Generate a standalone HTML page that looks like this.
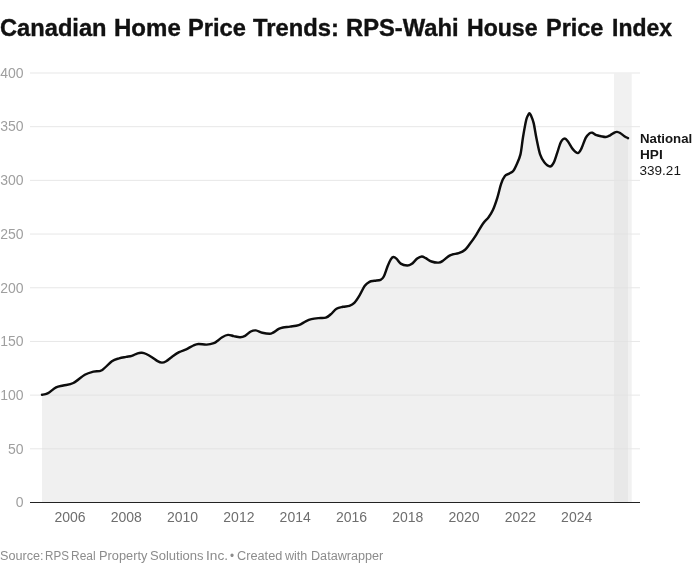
<!DOCTYPE html>
<html><head><meta charset="utf-8"><title>Canadian Home Price Trends</title>
<style>
html,body{margin:0;padding:0;background:#fff;}
body{width:699px;height:571px;position:relative;overflow:hidden;font-family:"Liberation Sans",sans-serif;}
svg{position:absolute;left:0;top:0;}
.w{position:absolute;white-space:nowrap;transform-origin:0 0;line-height:1;}
.t{font-weight:bold;font-size:24.7px;color:#111;top:16.3px;-webkit-text-stroke:0.4px #111;}
.f{font-size:12px;color:#8c8c8c;top:550px;}
.yl{position:absolute;left:0;width:23.6px;text-align:right;font-size:14px;color:#9f9f9f;line-height:14px;height:14px;}
.xl{position:absolute;width:60px;text-align:center;font-size:14px;color:#6e6e6e;line-height:14px;height:14px;top:509.8px;}
.lab{position:absolute;left:639.6px;font-size:13.5px;line-height:16.3px;color:#161616;top:130.7px;white-space:nowrap;}
.lab span{display:inline-block;transform-origin:0 0;}
.lab b{font-weight:bold;}
#L{position:absolute;left:0;top:0;width:699px;height:571px;will-change:transform;}
</style></head><body><div id="L">
<svg width="699" height="571" viewBox="0 0 699 571">
<rect x="614.0" y="73.6" width="17.7" height="428.9" fill="#f1f1f1"/>
<line x1="30" x2="640" y1="73.00" y2="73.00" stroke="#e7e7e7" stroke-width="1"/>
<line x1="30" x2="640" y1="126.69" y2="126.69" stroke="#e7e7e7" stroke-width="1"/>
<line x1="30" x2="640" y1="180.38" y2="180.38" stroke="#e7e7e7" stroke-width="1"/>
<line x1="30" x2="640" y1="234.06" y2="234.06" stroke="#e7e7e7" stroke-width="1"/>
<line x1="30" x2="640" y1="287.75" y2="287.75" stroke="#e7e7e7" stroke-width="1"/>
<line x1="30" x2="640" y1="341.44" y2="341.44" stroke="#e7e7e7" stroke-width="1"/>
<line x1="30" x2="640" y1="395.12" y2="395.12" stroke="#e7e7e7" stroke-width="1"/>
<line x1="30" x2="640" y1="448.81" y2="448.81" stroke="#e7e7e7" stroke-width="1"/>
<path d="M42.00,394.80C42.93,394.57 45.25,394.63 47.60,393.40C49.95,392.17 53.48,388.72 56.10,387.40C58.72,386.08 60.43,386.23 63.30,385.50C66.17,384.77 69.72,384.78 73.30,383.00C76.88,381.22 81.45,376.70 84.80,374.80C88.15,372.90 90.55,372.37 93.40,371.60C96.25,370.83 98.82,371.93 101.90,370.20C104.98,368.47 109.03,363.18 111.90,361.20C114.77,359.22 116.73,359.02 119.10,358.30C121.47,357.58 123.98,357.30 126.10,356.90C128.22,356.50 129.88,356.50 131.80,355.90C133.72,355.30 135.92,353.82 137.60,353.30C139.28,352.78 140.47,352.68 141.90,352.80C143.33,352.92 144.53,353.27 146.20,354.00C147.87,354.73 150.00,356.00 151.90,357.20C153.80,358.40 155.93,360.30 157.60,361.20C159.27,362.10 160.47,362.60 161.90,362.60C163.33,362.60 164.53,362.15 166.20,361.20C167.87,360.25 169.75,358.40 171.90,356.90C174.05,355.40 176.72,353.47 179.10,352.20C181.48,350.93 183.82,350.42 186.20,349.30C188.58,348.18 191.37,346.38 193.40,345.50C195.43,344.62 196.20,344.15 198.40,344.00C200.60,343.85 204.03,344.73 206.60,344.60C209.17,344.47 212.02,343.80 213.80,343.20C215.58,342.60 215.90,342.00 217.30,341.00C218.70,340.00 220.42,338.22 222.20,337.20C223.98,336.18 226.08,335.08 228.00,334.90C229.92,334.72 231.68,335.72 233.70,336.10C235.72,336.48 238.20,337.25 240.10,337.20C242.00,337.15 243.32,336.75 245.10,335.80C246.88,334.85 249.02,332.40 250.80,331.50C252.58,330.60 253.88,330.20 255.80,330.40C257.72,330.60 260.02,332.13 262.30,332.70C264.58,333.27 267.72,333.80 269.50,333.80C271.28,333.80 271.47,333.52 273.00,332.70C274.53,331.88 277.03,329.77 278.70,328.90C280.37,328.03 281.10,327.88 283.00,327.50C284.90,327.12 287.48,326.98 290.10,326.60C292.72,326.22 296.10,326.08 298.70,325.20C301.30,324.32 303.58,322.32 305.70,321.30C307.82,320.28 309.25,319.63 311.40,319.10C313.55,318.57 316.20,318.33 318.60,318.10C321.00,317.87 323.77,318.33 325.80,317.70C327.83,317.07 329.02,315.80 330.80,314.30C332.58,312.80 334.48,309.95 336.50,308.70C338.52,307.45 340.75,307.28 342.90,306.80C345.05,306.32 347.50,306.45 349.40,305.80C351.30,305.15 352.58,304.68 354.30,302.90C356.02,301.12 357.95,297.95 359.70,295.10C361.45,292.25 363.17,288.02 364.80,285.80C366.43,283.58 367.90,282.63 369.50,281.80C371.10,280.97 372.55,281.13 374.40,280.80C376.25,280.47 379.03,280.52 380.60,279.80C382.17,279.08 382.65,278.72 383.80,276.50C384.95,274.28 386.33,269.37 387.50,266.50C388.67,263.63 389.83,260.88 390.80,259.30C391.77,257.72 392.37,257.12 393.30,257.00C394.23,256.88 395.17,257.50 396.40,258.60C397.63,259.70 398.90,262.45 400.70,263.60C402.50,264.75 405.40,265.42 407.20,265.50C409.00,265.58 409.83,265.25 411.50,264.10C413.17,262.95 415.48,259.87 417.20,258.60C418.92,257.33 420.37,256.57 421.80,256.50C423.23,256.43 424.18,257.37 425.80,258.20C427.42,259.03 429.37,260.77 431.50,261.50C433.63,262.23 436.70,262.72 438.60,262.60C440.50,262.48 441.22,261.88 442.90,260.80C444.58,259.72 447.03,257.18 448.70,256.10C450.37,255.02 451.23,254.78 452.90,254.30C454.57,253.82 456.67,253.95 458.70,253.20C460.73,252.45 463.20,251.40 465.10,249.80C467.00,248.20 468.25,246.10 470.10,243.60C471.95,241.10 474.07,238.12 476.20,234.80C478.33,231.48 480.83,226.63 482.90,223.70C484.97,220.77 486.93,219.47 488.60,217.20C490.27,214.93 491.45,213.32 492.90,210.10C494.35,206.88 495.92,202.32 497.30,197.90C498.68,193.48 499.93,187.25 501.20,183.60C502.47,179.95 503.57,177.67 504.90,176.00C506.23,174.33 507.82,174.43 509.20,173.60C510.58,172.77 512.03,172.35 513.20,171.00C514.37,169.65 515.00,168.23 516.20,165.50C517.40,162.77 519.27,159.32 520.40,154.60C521.53,149.88 522.03,142.97 523.00,137.20C523.97,131.43 525.35,123.67 526.20,120.00C527.05,116.33 527.57,116.32 528.10,115.20C528.63,114.08 528.93,113.28 529.40,113.30C529.87,113.32 530.20,113.70 530.90,115.30C531.60,116.90 532.67,119.02 533.60,122.90C534.53,126.78 535.42,133.35 536.50,138.60C537.58,143.85 538.80,150.47 540.10,154.40C541.40,158.33 542.63,160.18 544.30,162.20C545.97,164.22 548.55,166.38 550.10,166.50C551.65,166.62 552.42,165.17 553.60,162.90C554.78,160.63 556.00,156.35 557.20,152.90C558.40,149.45 559.60,144.58 560.80,142.20C562.00,139.82 563.20,138.72 564.40,138.60C565.60,138.48 566.57,139.70 568.00,141.50C569.43,143.30 571.35,147.47 573.00,149.40C574.65,151.33 576.50,153.23 577.90,153.10C579.30,152.97 580.10,151.13 581.40,148.60C582.70,146.07 584.35,140.43 585.70,137.90C587.05,135.37 588.40,134.27 589.50,133.40C590.60,132.53 591.13,132.40 592.30,132.70C593.47,133.00 595.05,134.62 596.50,135.20C597.95,135.78 599.45,135.90 601.00,136.20C602.55,136.50 604.28,137.15 605.80,137.00C607.32,136.85 608.67,136.03 610.10,135.30C611.53,134.57 613.25,133.17 614.40,132.60C615.55,132.03 616.05,131.83 617.00,131.90C617.95,131.97 618.87,132.28 620.10,133.00C621.33,133.72 623.08,135.35 624.40,136.20C625.72,137.05 627.40,137.78 628.00,138.10L628.00,502.5L42.00,502.5Z" fill="#dcdcdc" fill-opacity="0.44"/>
<path d="M42.00,394.80C42.93,394.57 45.25,394.63 47.60,393.40C49.95,392.17 53.48,388.72 56.10,387.40C58.72,386.08 60.43,386.23 63.30,385.50C66.17,384.77 69.72,384.78 73.30,383.00C76.88,381.22 81.45,376.70 84.80,374.80C88.15,372.90 90.55,372.37 93.40,371.60C96.25,370.83 98.82,371.93 101.90,370.20C104.98,368.47 109.03,363.18 111.90,361.20C114.77,359.22 116.73,359.02 119.10,358.30C121.47,357.58 123.98,357.30 126.10,356.90C128.22,356.50 129.88,356.50 131.80,355.90C133.72,355.30 135.92,353.82 137.60,353.30C139.28,352.78 140.47,352.68 141.90,352.80C143.33,352.92 144.53,353.27 146.20,354.00C147.87,354.73 150.00,356.00 151.90,357.20C153.80,358.40 155.93,360.30 157.60,361.20C159.27,362.10 160.47,362.60 161.90,362.60C163.33,362.60 164.53,362.15 166.20,361.20C167.87,360.25 169.75,358.40 171.90,356.90C174.05,355.40 176.72,353.47 179.10,352.20C181.48,350.93 183.82,350.42 186.20,349.30C188.58,348.18 191.37,346.38 193.40,345.50C195.43,344.62 196.20,344.15 198.40,344.00C200.60,343.85 204.03,344.73 206.60,344.60C209.17,344.47 212.02,343.80 213.80,343.20C215.58,342.60 215.90,342.00 217.30,341.00C218.70,340.00 220.42,338.22 222.20,337.20C223.98,336.18 226.08,335.08 228.00,334.90C229.92,334.72 231.68,335.72 233.70,336.10C235.72,336.48 238.20,337.25 240.10,337.20C242.00,337.15 243.32,336.75 245.10,335.80C246.88,334.85 249.02,332.40 250.80,331.50C252.58,330.60 253.88,330.20 255.80,330.40C257.72,330.60 260.02,332.13 262.30,332.70C264.58,333.27 267.72,333.80 269.50,333.80C271.28,333.80 271.47,333.52 273.00,332.70C274.53,331.88 277.03,329.77 278.70,328.90C280.37,328.03 281.10,327.88 283.00,327.50C284.90,327.12 287.48,326.98 290.10,326.60C292.72,326.22 296.10,326.08 298.70,325.20C301.30,324.32 303.58,322.32 305.70,321.30C307.82,320.28 309.25,319.63 311.40,319.10C313.55,318.57 316.20,318.33 318.60,318.10C321.00,317.87 323.77,318.33 325.80,317.70C327.83,317.07 329.02,315.80 330.80,314.30C332.58,312.80 334.48,309.95 336.50,308.70C338.52,307.45 340.75,307.28 342.90,306.80C345.05,306.32 347.50,306.45 349.40,305.80C351.30,305.15 352.58,304.68 354.30,302.90C356.02,301.12 357.95,297.95 359.70,295.10C361.45,292.25 363.17,288.02 364.80,285.80C366.43,283.58 367.90,282.63 369.50,281.80C371.10,280.97 372.55,281.13 374.40,280.80C376.25,280.47 379.03,280.52 380.60,279.80C382.17,279.08 382.65,278.72 383.80,276.50C384.95,274.28 386.33,269.37 387.50,266.50C388.67,263.63 389.83,260.88 390.80,259.30C391.77,257.72 392.37,257.12 393.30,257.00C394.23,256.88 395.17,257.50 396.40,258.60C397.63,259.70 398.90,262.45 400.70,263.60C402.50,264.75 405.40,265.42 407.20,265.50C409.00,265.58 409.83,265.25 411.50,264.10C413.17,262.95 415.48,259.87 417.20,258.60C418.92,257.33 420.37,256.57 421.80,256.50C423.23,256.43 424.18,257.37 425.80,258.20C427.42,259.03 429.37,260.77 431.50,261.50C433.63,262.23 436.70,262.72 438.60,262.60C440.50,262.48 441.22,261.88 442.90,260.80C444.58,259.72 447.03,257.18 448.70,256.10C450.37,255.02 451.23,254.78 452.90,254.30C454.57,253.82 456.67,253.95 458.70,253.20C460.73,252.45 463.20,251.40 465.10,249.80C467.00,248.20 468.25,246.10 470.10,243.60C471.95,241.10 474.07,238.12 476.20,234.80C478.33,231.48 480.83,226.63 482.90,223.70C484.97,220.77 486.93,219.47 488.60,217.20C490.27,214.93 491.45,213.32 492.90,210.10C494.35,206.88 495.92,202.32 497.30,197.90C498.68,193.48 499.93,187.25 501.20,183.60C502.47,179.95 503.57,177.67 504.90,176.00C506.23,174.33 507.82,174.43 509.20,173.60C510.58,172.77 512.03,172.35 513.20,171.00C514.37,169.65 515.00,168.23 516.20,165.50C517.40,162.77 519.27,159.32 520.40,154.60C521.53,149.88 522.03,142.97 523.00,137.20C523.97,131.43 525.35,123.67 526.20,120.00C527.05,116.33 527.57,116.32 528.10,115.20C528.63,114.08 528.93,113.28 529.40,113.30C529.87,113.32 530.20,113.70 530.90,115.30C531.60,116.90 532.67,119.02 533.60,122.90C534.53,126.78 535.42,133.35 536.50,138.60C537.58,143.85 538.80,150.47 540.10,154.40C541.40,158.33 542.63,160.18 544.30,162.20C545.97,164.22 548.55,166.38 550.10,166.50C551.65,166.62 552.42,165.17 553.60,162.90C554.78,160.63 556.00,156.35 557.20,152.90C558.40,149.45 559.60,144.58 560.80,142.20C562.00,139.82 563.20,138.72 564.40,138.60C565.60,138.48 566.57,139.70 568.00,141.50C569.43,143.30 571.35,147.47 573.00,149.40C574.65,151.33 576.50,153.23 577.90,153.10C579.30,152.97 580.10,151.13 581.40,148.60C582.70,146.07 584.35,140.43 585.70,137.90C587.05,135.37 588.40,134.27 589.50,133.40C590.60,132.53 591.13,132.40 592.30,132.70C593.47,133.00 595.05,134.62 596.50,135.20C597.95,135.78 599.45,135.90 601.00,136.20C602.55,136.50 604.28,137.15 605.80,137.00C607.32,136.85 608.67,136.03 610.10,135.30C611.53,134.57 613.25,133.17 614.40,132.60C615.55,132.03 616.05,131.83 617.00,131.90C617.95,131.97 618.87,132.28 620.10,133.00C621.33,133.72 623.08,135.35 624.40,136.20C625.72,137.05 627.40,137.78 628.00,138.10" fill="none" stroke="#0d0d0d" stroke-width="2.45" stroke-linejoin="round" stroke-linecap="round"/>
<line x1="30" x2="640" y1="502.5" y2="502.5" stroke="#222" stroke-width="1"/>
</svg>
<span class="w t" id="t0" style="left:0.04px;transform:scaleX(0.9587)">Canadian</span>
<span class="w t" id="t1" style="left:113.83px;transform:scaleX(0.9731)">Home</span>
<span class="w t" id="t2" style="left:188.04px;transform:scaleX(0.9576)">Price</span>
<span class="w t" id="t3" style="left:253.20px;transform:scaleX(0.9632)">Trends:</span>
<span class="w t" id="t4" style="left:346.04px;transform:scaleX(0.9617)">RPS-Wahi</span>
<span class="w t" id="t5" style="left:467.06px;transform:scaleX(0.9351)">House</span>
<span class="w t" id="t6" style="left:545.65px;transform:scaleX(0.9508)">Price</span>
<span class="w t" id="t7" style="left:611.77px;transform:scaleX(0.9297)">Index</span>
<div class="yl" style="top:66px">400</div>
<div class="yl" style="top:119px">350</div>
<div class="yl" style="top:173px">300</div>
<div class="yl" style="top:227px">250</div>
<div class="yl" style="top:281px">200</div>
<div class="yl" style="top:334px">150</div>
<div class="yl" style="top:388px">100</div>
<div class="yl" style="top:442px">50</div>
<div class="yl" style="top:495px">0</div>
<div class="xl" style="left:40.0px">2006</div>
<div class="xl" style="left:96.3px">2008</div>
<div class="xl" style="left:152.6px">2010</div>
<div class="xl" style="left:208.9px">2012</div>
<div class="xl" style="left:265.2px">2014</div>
<div class="xl" style="left:321.5px">2016</div>
<div class="xl" style="left:377.8px">2018</div>
<div class="xl" style="left:434.1px">2020</div>
<div class="xl" style="left:490.4px">2022</div>
<div class="xl" style="left:546.7px">2024</div>
<div class="lab"><b><span style="transform:scaleX(0.98)">National</span><br><span style="transform:scaleX(1.01)">HPI</span></b><br>339.21</div>
<span class="w f" id="f0" style="left:-0.15px;transform:scaleX(1.0538)">Source:</span>
<span class="w f" id="f1" style="left:45.43px;transform:scaleX(0.9696)">RPS</span>
<span class="w f" id="f2" style="left:71.40px;transform:scaleX(0.9957)">Real</span>
<span class="w f" id="f3" style="left:98.53px;transform:scaleX(1.0659)">Property</span>
<span class="w f" id="f4" style="left:149.71px;transform:scaleX(1.0854)">Solutions</span>
<span class="w f" id="f5" style="left:206.06px;transform:scaleX(1.1412)">Inc.</span>
<span class="w f" id="f6" style="left:229.93px;transform:scaleX(0.9667)">•</span>
<span class="w f" id="f7" style="left:236.94px;transform:scaleX(1.0610)">Created</span>
<span class="w f" id="f8" style="left:285.30px;transform:scaleX(1.0476)">with</span>
<span class="w f" id="f9" style="left:310.55px;transform:scaleX(1.0515)">Datawrapper</span>
</div></body></html>
